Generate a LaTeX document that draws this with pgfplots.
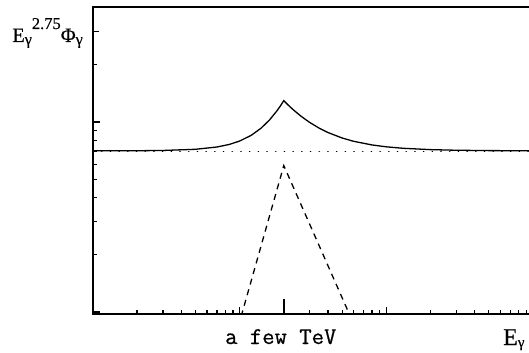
\documentclass[border=0pt]{standalone}
\usepackage{fontspec}
\setmainfont{Liberation Serif}
\newfontface\serifface[FakeBold=0.5]{Liberation Serif}
\newfontface\monoface[FakeBold=0.6]{Latin Modern Mono}
\usepackage{pgfplots}
\pgfplotsset{compat=1.18}
\begin{document}
\begin{tikzpicture}
\begin{axis}[name=ax, scale only axis, width=436bp, height=307bp,
  xmode=log, ymode=log, xmin=0.1, xmax=94, ymin=0.976, ymax=40.3,
  axis x line*=bottom, axis y line*=left,
  axis line style={line width=2.8bp, line cap=rect},
  tick align=inside,
  xtick={0.1,1,10}, ytick={1,10},
  minor xtick={0.2,0.3,0.4,0.5,0.6,0.7,0.8,0.9,3,4,5,6,7,8,9,20,30,40,50,60,70,80,90},
  minor ytick={2,3,4,5,6,7,8,9,20},
  xticklabels={}, yticklabels={},
  major tick length=7.5bp, minor tick length=4.5bp,
  tick style={line width=1.3bp, black},
  extra x ticks={2}, extra x tick labels={},
  extra x tick style={major tick length=15bp, tick style={line width=1.7bp}},
  extra y ticks={30}, extra y tick labels={},
  extra y tick style={major tick length=6.5bp},
]
\addplot[black, line width=1.6bp, dash pattern=on 0.1bp off 8.6bp, line cap=round] coordinates {(0.1,7.0) (94,7.0)};
\addplot[black, line width=1.3bp, dash pattern=on 6bp off 5bp] coordinates {(0.81,0.5) (2,5.9) (8.2,0.5)};
\addplot[black, line width=1.3bp] coordinates {
(0.1,7.052) (0.2,7.061) (0.3,7.083) (0.5,7.184) (0.7,7.386) (0.85,7.620)
(1,7.939) (1.2,8.513) (1.4,9.278) (1.6,10.258) (1.8,11.475) (1.9,12.179)
(2,12.95) (2.15,12.249) (2.3,11.670) (2.6,10.778) (3,9.952) (3.5,9.266)
(4,8.804) (5,8.237) (6,7.913) (8,7.572) (10,7.403) (13,7.273) (20,7.155)
(30,7.102) (50,7.071) (94,7.057)};
\coordinate (few) at (axis cs:2,0.976);
\end{axis}
\draw[line width=2.8bp, line cap=rect] (ax.north west) -- (ax.north east);
\node[anchor=base, inner sep=0, font=\fontsize{24bp}{28bp}\monoface] at ([xshift=-3bp,yshift=-30bp]few) {a few TeV};
\node[anchor=base east, inner sep=0, font=\fontsize{20.5bp}{24bp}\serifface] at ([xshift=-10bp,yshift=-35bp]ax.north west)
  {E\raisebox{-2.5bp}{\fontsize{16bp}{16bp}\selectfont γ}\raisebox{13bp}{\fontsize{16.5bp}{16bp}\selectfont 2.75}Φ\raisebox{-2.5bp}{\fontsize{16bp}{16bp}\selectfont γ}};
\node[anchor=base west, inner sep=0, font=\fontsize{24bp}{28bp}\serifface] at ([xshift=-26bp,yshift=-31bp]ax.south east)
  {E\raisebox{-2bp}{\fontsize{15bp}{15bp}\selectfont γ}};
\pgfresetboundingbox
\path[use as bounding box] ([xshift=-93bp,yshift=-39bp]ax.south west) rectangle ([yshift=7bp]ax.north east);
\end{tikzpicture}
\end{document}
